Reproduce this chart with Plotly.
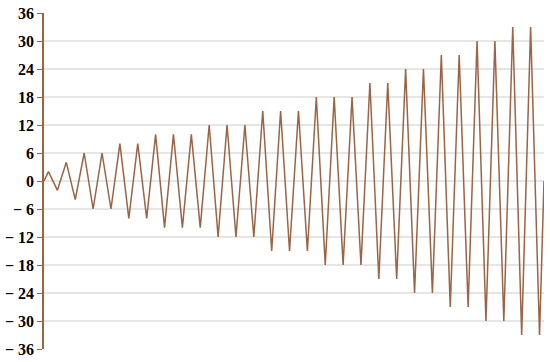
import plotly.graph_objects as go

# Data (zig-zag series)
x_pos = [0] + [i + 0.5 for i in range(56)] + [56]
values = [0,
          2, -2, 4, -4, 6, -6, 6, -6, 8, -8, 8, -8,
          10, -10, 10, -10, 10, -10, 12, -12, 12, -12, 12, -12,
          15, -15, 15, -15, 15, -15, 18, -18, 18, -18, 18, -18,
          21, -21, 21, -21, 24, -24, 24, -24, 27, -27, 27, -27,
          30, -30, 30, -30, 33, -33, 33, -33,
          0]
y_ticks = [-36, -30, -24, -18, -12, -6, 0, 6, 12, 18, 24, 30, 36]
y_tick_labels = [("\u2212\u00a0" + str(-v)) if v < 0 else str(v) for v in y_ticks]

line_color = "#9a6445"

fig = go.Figure()
fig.add_trace(go.Scatter(
    x=x_pos, y=values, mode="lines",
    line=dict(color=line_color, width=1.5),
    hoverinfo="skip", showlegend=False,
))

fig.update_layout(
    width=550, height=362,
    margin=dict(l=44, r=6, t=13, b=13),
    paper_bgcolor="white", plot_bgcolor="white",
    xaxis=dict(range=[0, 56], visible=False, showgrid=False, zeroline=False,
               automargin=False),
    yaxis=dict(
        range=[-36, 36], automargin=False,
        tickvals=y_ticks, ticktext=y_tick_labels,
        tickfont=dict(family="Liberation Serif", size=16, color="black", weight="bold"),
        ticks="outside", ticklen=5, tickcolor=line_color, tickwidth=1,
        showline=True, linecolor=line_color, linewidth=1.5,
        showgrid=True, gridcolor="#e6e6e6", gridwidth=1.5,
        zeroline=False,
    ),
)

fig.write_html(
    "out.html",
    config={"displayModeBar": False},
    post_script="document.body.style.margin='0';document.body.style.overflow='hidden';",
)
